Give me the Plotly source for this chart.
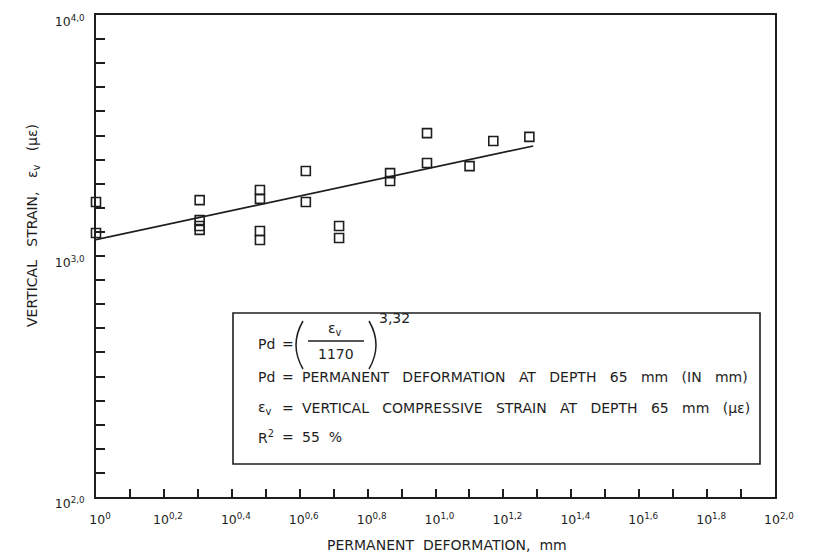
import plotly.graph_objects as go

# ---- data ----
deformation_mm = [1.0, 1.0, 2.02, 2.02, 2.02, 2.02, 3.04, 3.04, 3.04, 3.04,
                  4.15, 4.15, 5.2, 5.2, 7.35, 7.35, 9.44, 9.44, 12.6, 14.8, 18.9]
strain_ue = [1675, 1245, 1706, 1409, 1332, 1283, 1879, 1726, 1270, 1165,
             2254, 1675, 1331, 1188, 2208, 2047, 3236, 2432, 2361, 3000, 3120]

fit_x = [1.0, 19.4]
fit_y = [1170, 2860]

x_tick_exp = [0, 0.1, 0.2, 0.3, 0.4, 0.5, 0.6, 0.7, 0.8, 0.9, 1.0,
              1.1, 1.2, 1.3, 1.4, 1.5, 1.6, 1.7, 1.8, 1.9, 2.0]
x_tick_text = ["0", "", "0,2", "", "0,4", "", "0,6", "", "0,8", "", "1,0",
               "", "1,2", "", "1,4", "", "1,6", "", "1,8", "", "2,0"]
y_tick_exp = [2.0, 2.1, 2.2, 2.3, 2.4, 2.5, 2.6, 2.7, 2.8, 2.9, 3.0,
              3.1, 3.2, 3.3, 3.4, 3.5, 3.6, 3.7, 3.8, 3.9, 4.0]
y_tick_text = ["2,0", "", "", "", "", "", "", "", "", "", "3,0",
               "", "", "", "", "", "", "", "", "", "4,0"]

INK = "#1e1e1e"
FONT = "DejaVu Sans"
SP = "&nbsp;"

fig = go.Figure()
fig.add_trace(go.Scatter(
    x=fit_x, y=fit_y, mode="lines",
    line=dict(color=INK, width=1.7), showlegend=False, hoverinfo="skip"))
fig.add_trace(go.Scatter(
    x=deformation_mm, y=strain_ue, mode="markers", cliponaxis=False,
    marker=dict(symbol="square-open", size=9, color=INK, line=dict(width=1.6, color=INK)),
    showlegend=False))

def lab(t):
    return "10<sup>%s</sup>" % t if t else ""

fig.update_xaxes(
    type="log", range=[0, 2], automargin=False,
    tickvals=[10 ** e for e in x_tick_exp],
    ticktext=[lab(t) for t in x_tick_text],
    ticks="inside", ticklen=8, tickwidth=1.5, tickcolor=INK,
    showline=True, linewidth=1.8, linecolor=INK, mirror=True,
    showgrid=False, zeroline=False,
    tickfont=dict(family=FONT, size=12.5, color=INK),
    ticklabelshift=4, ticklabelstandoff=10,
)
fig.update_yaxes(
    type="log", range=[2, 4], automargin=False,
    tickvals=[10 ** e for e in y_tick_exp],
    ticktext=[lab(t) for t in y_tick_text],
    ticks="inside", ticklen=9, tickwidth=1.5, tickcolor=INK,
    showline=True, linewidth=1.8, linecolor=INK, mirror=True,
    showgrid=False, zeroline=False,
    tickfont=dict(family=FONT, size=12.5, color=INK),
    ticklabelshift=7, ticklabelstandoff=7,
)

L, R, T, B = 96, 41, 15, 58
PW, PH = 816 - L - R, 555 - T - B

def px(x):
    return (x - L) / PW

def py(y):
    return (555 - B - y) / PH

ann = []
def add(text, x, y, size=14, xanchor="left", yanchor="middle", angle=0):
    ann.append(dict(text=text, x=px(x), y=py(y), xref="paper", yref="paper",
                    xanchor=xanchor, yanchor=yanchor, showarrow=False, textangle=angle,
                    font=dict(family=FONT, size=size, color=INK)))

def sp(s, n=3):
    return s.replace(" ", SP * n)

# axis titles
add(sp("PERMANENT DEFORMATION, mm", 2), 447, 545, size=14, xanchor="center")
add(sp("VERTICAL STRAIN, \u03b5<sub>v</sub> (\u03bc\u03b5)", 3), 33, 226,
    size=14, xanchor="center", angle=-90)

# equation box content
add("Pd", 256, 344)
add("=", 288, 344, xanchor="center")
add("\u03b5<sub>v</sub>", 335, 329, xanchor="center")
add("1170", 336, 354, xanchor="center")
add("3,32", 377, 318, size=14)

rows = [("Pd", sp("PERMANENT DEFORMATION AT DEPTH 65 mm (IN mm)"), 377),
        ("\u03b5<sub>v</sub>", sp("VERTICAL COMPRESSIVE STRAIN AT DEPTH 65 mm (\u03bc\u03b5)"), 408),
        ("R<sup>2</sup>", sp("55 %", 2), 437)]
for lbl, txt, yy in rows:
    add(lbl, 256, yy)
    add("=", 288, yy, xanchor="center")
    add(txt, 300, yy)

def paren(xe, xm, ytop, ybot):
    ymid = (ytop + ybot) / 2
    return "M %f %f Q %f %f %f %f" % (px(xe), py(ytop), px(2 * xm - xe), py(ymid), px(xe), py(ybot))

shapes = [
    dict(type="rect", xref="paper", yref="paper", x0=px(233), x1=px(760), y0=py(464), y1=py(313),
         line=dict(color=INK, width=1.6)),
    dict(type="line", xref="paper", yref="paper", x0=px(308), x1=px(364), y0=py(341), y1=py(341),
         line=dict(color=INK, width=1.3)),
    dict(type="path", xref="paper", yref="paper", path=paren(303, 296, 321, 369),
         line=dict(color=INK, width=1.5)),
    dict(type="path", xref="paper", yref="paper", path=paren(369, 376, 321, 369),
         line=dict(color=INK, width=1.5)),
]

fig.update_layout(
    width=816, height=555,
    margin=dict(l=L, r=R, t=T, b=B, autoexpand=False),
    paper_bgcolor="white", plot_bgcolor="white",
    annotations=ann, shapes=shapes,
    font=dict(family=FONT, color=INK),
)
fig.write_html("out.html")
